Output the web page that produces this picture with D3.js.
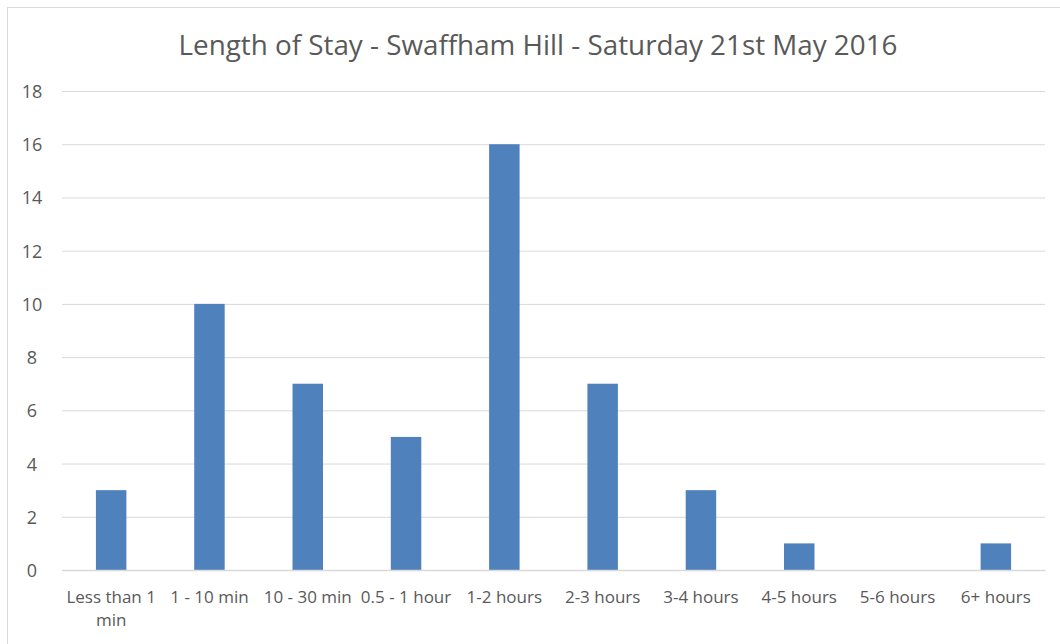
<!DOCTYPE html>
<html>
<head>
<meta charset="utf-8">
<script src="https://cdn.jsdelivr.net/npm/d3@7"></script>
<style>
html,body{margin:0;padding:0;background:#fff;}
svg{display:block;}
svg text{font-family:"Open Sans","Noto Sans",sans-serif;}
</style>
</head>
<body>
<svg id="chart" width="1060" height="644"></svg>
<script>
const title = "Length of Stay - Swaffham Hill - Saturday 21st May 2016";
const categories = ["Less than 1 min","1 - 10 min","10 - 30 min","0.5 - 1 hour","1-2 hours","2-3 hours","3-4 hours","4-5 hours","5-6 hours","6+ hours"];
const values = [3,10,7,5,16,7,3,1,0,1];
const yTicks = [0,2,4,6,8,10,12,14,16,18];

const svg = d3.select("#chart");
const W = 1060, H = 644;
const m = {left:62, right:15, top:91, bottom:74};
const FONT = "'Open Sans','Noto Sans',sans-serif";

// chart border
svg.append("rect").attr("x",7.5).attr("y",7.5).attr("width",W+10).attr("height",H+10)
  .attr("fill","#fff").attr("stroke","#d9d9d9").attr("stroke-width",1);

const x = d3.scaleBand().domain(categories).range([m.left, W - m.right]).paddingInner(0.69).paddingOuter(0.345);
const y = d3.scaleLinear().domain([0,18]).range([H - m.bottom, m.top]);

// gridlines
const yAxis = d3.axisLeft(y).tickValues(yTicks).tickSize(-(W - m.right - m.left)).tickPadding(26);
const gy = svg.append("g").attr("transform",`translate(${m.left},0)`).call(yAxis);
gy.select(".domain").remove();
gy.selectAll(".tick line").attr("stroke","#d9d9d9").attr("stroke-width",1);
gy.selectAll(".tick text").attr("fill","#595959").attr("text-anchor","middle").attr("x",-30).attr("dy","0.36em")
  .style("font-size","18px");

// bars
svg.append("g").selectAll("rect").data(values).join("rect")
  .attr("x",(d,i)=>x(categories[i]))
  .attr("y",d=>y(d))
  .attr("width",x.bandwidth())
  .attr("height",d=>y(0)-y(d))
  .attr("fill","#4f81bd");

// x axis baseline
const xAxis = d3.axisBottom(x).tickSize(0).tickPadding(0);
const gx = svg.append("g").attr("transform",`translate(0,${y(0)})`).call(xAxis);
gx.select(".domain").attr("stroke","#d9d9d9").attr("stroke-width",1.5);
gx.selectAll(".tick text").remove();
gx.selectAll(".tick").each(function(d){
  const t = d3.select(this).append("text").attr("fill","#595959").attr("text-anchor","middle").style("font-size","17px");
  let lines = [d];
  if (d === "Less than 1 min") lines = ["Less than 1","min"];
  lines.forEach((l,i)=>t.append("tspan").attr("x",0).attr("y",33 + i*23).text(l));
});

// title
svg.append("text").attr("x",538).attr("y",55).attr("text-anchor","middle")
  .attr("fill","#595959").style("font-size","27.8px").text(title);
</script>
</body>
</html>
